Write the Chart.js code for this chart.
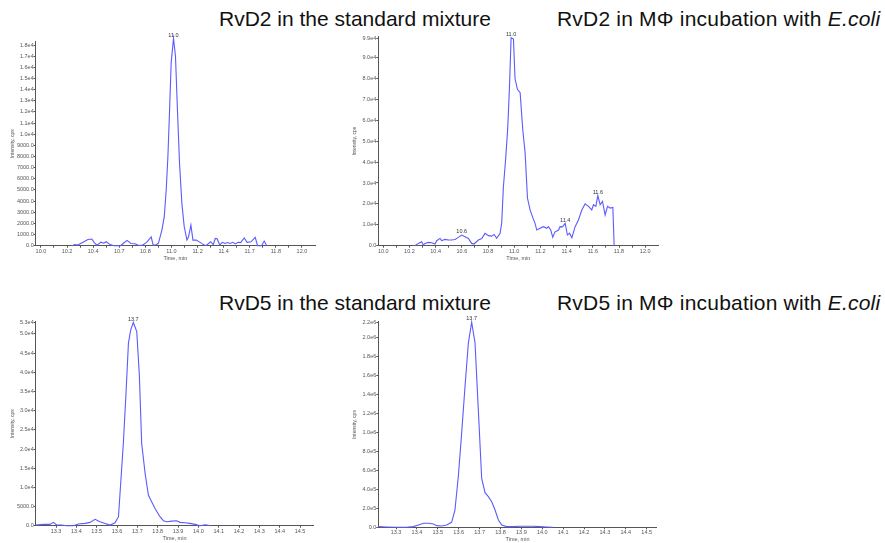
<!DOCTYPE html>
<html>
<head>
<meta charset="utf-8">
<script src="https://cdn.jsdelivr.net/npm/chart.js@4.4.1/dist/chart.umd.min.js"></script>
<style>
  html, body { margin: 0; padding: 0; background: #fff; }
  body { width: 885px; height: 543px; position: relative; overflow: hidden; }
  canvas { position: absolute; }
  .ttl { position: absolute; font-family: "Liberation Sans", Arial, sans-serif; font-size: 21px; line-height: 21px; color: #111; white-space: nowrap; }
  .ttl.r { letter-spacing: 0.2px; }
</style>
</head>
<body>
<div class="ttl" style="left:219px; top:8px;">RvD2 in the standard mixture</div>
<div class="ttl r" style="left:557px; top:8px;">RvD2 in MΦ incubation with <i>E.coli</i></div>
<div class="ttl" style="left:219px; top:292px;">RvD5 in the standard mixture</div>
<div class="ttl r" style="left:557px; top:292px;">RvD5 in MΦ incubation with <i>E.coli</i></div>

<canvas id="c1" width="330" height="240" style="left:0px; top:30px;"></canvas>
<canvas id="c2" width="340" height="240" style="left:330px; top:30px;"></canvas>
<canvas id="c3" width="330" height="233" style="left:0px; top:310px;"></canvas>
<canvas id="c4" width="340" height="233" style="left:330px; top:310px;"></canvas>

<script>
// ---------------- DATA ----------------
// Panel 1: RvD2 standard mixture (time, min / intensity, cps)
const P1_TIME = [10.24,10.26,10.28,10.30,10.33,10.36,10.39,10.41,10.43,10.46,10.48,10.50,10.53,10.56,10.61,10.63,10.66,10.69,10.72,10.75,10.78,10.81,10.845,10.86,10.88,10.90,10.927,10.945,10.96,10.973,10.985,10.998,11.016,11.031,11.047,11.062,11.08,11.098,11.119,11.131,11.149,11.165,11.19,11.22,11.245,11.264,11.28,11.30,11.32,11.336,11.35,11.37,11.39,11.41,11.43,11.45,11.47,11.49,11.51,11.53,11.558,11.58,11.61,11.642,11.66,11.69,11.711,11.73];
const P1_INT  = [0,100,50,180,350,550,600,250,40,320,220,360,100,0,0,200,480,200,180,20,60,300,780,50,60,215,1400,2600,5000,8000,11900,16400,18600,17000,11900,7400,3800,1700,510,800,1850,500,500,300,100,0,150,360,100,650,620,60,300,200,280,200,300,160,300,280,700,300,350,750,0,0,420,0];
const P1_XTICKS = [10.0,10.1,10.2,10.3,10.4,10.5,10.6,10.7,10.8,10.9,11.0,11.1,11.2,11.3,11.4,11.5,11.6,11.7,11.8,11.9,12.0];
const P1_XLABELS = ['10.0','','10.2','','10.4','','10.7','','10.8','','11.0','','11.2','','11.4','','11.7','','11.8','','12.0'];
const P1_YTICKS = [0,1000,2000,3000,4000,5000,6000,7000,8000,9000,10000,11000,12000,13000,14000,15000,16000,17000,18000];
const P1_PEAKS = [[11.016, 18600, '11.0']];

// Panel 2: RvD2 in MΦ incubation with E.coli
const P2_TIME = [10.242,10.268,10.293,10.306,10.318,10.344,10.369,10.395,10.408,10.433,10.446,10.471,10.497,10.522,10.548,10.573,10.599,10.624,10.65,10.675,10.693,10.726,10.752,10.777,10.803,10.828,10.846,10.866,10.892,10.904,10.917,10.935,10.95,10.963,10.976,10.994,11.006,11.024,11.045,11.065,11.083,11.101,11.121,11.146,11.159,11.172,11.197,11.223,11.248,11.261,11.279,11.294,11.31,11.338,11.35,11.368,11.389,11.406,11.422,11.44,11.465,11.49,11.516,11.541,11.567,11.592,11.605,11.623,11.638,11.656,11.674,11.694,11.712,11.732,11.753,11.763];
const P2_INT  = [0,1100,1900,300,1100,1600,1400,800,2400,3500,2400,3000,2700,2700,3000,4000,5100,4300,3500,1100,800,2700,3400,5900,4800,4600,5400,3500,5900,10700,28000,42000,56000,75000,99500,98900,80000,74800,73200,55600,44400,22800,17100,12700,10700,7500,8300,9100,8300,9100,7500,4000,6500,7500,9100,9000,10700,5100,6000,3800,9100,12300,17100,20000,18800,17100,19600,18800,24000,19600,21200,14700,18800,18000,18300,0];
const P2_XTICKS = [10.0,10.1,10.2,10.3,10.4,10.5,10.6,10.7,10.8,10.9,11.0,11.1,11.2,11.3,11.4,11.5,11.6,11.7,11.8,11.9,12.0];
const P2_XLABELS = ['10.0','','10.2','','10.4','','10.6','','10.8','','11.0','','11.2','','11.4','','11.6','','11.8','','12.0'];
const P2_YTICKS = [0,10000,20000,30000,40000,50000,60000,70000,80000,90000,99000];
const P2_PEAKS = [[10.599, 5100, '10.6'], [10.976, 99500, '11.0'], [11.389, 10700, '11.4'], [11.638, 24000, '11.6']];

// Panel 3: RvD5 standard mixture
const P3_TIME = [13.2,13.238,13.27,13.287,13.303,13.328,13.352,13.385,13.41,13.443,13.467,13.492,13.516,13.541,13.566,13.59,13.607,13.631,13.644,13.656,13.667,13.68,13.697,13.71,13.721,13.738,13.754,13.77,13.787,13.811,13.828,13.844,13.869,13.893,13.91,13.934,13.959,13.984,14.008,14.033,14.049,14.057];
const P3_INT  = [170,350,350,870,170,170,0,0,430,600,870,1650,1050,600,170,780,2350,21500,34500,47600,51000,53000,50600,38900,21500,13650,8000,6260,4500,2350,1300,1050,1200,1300,870,780,600,350,0,260,100,0];
const P3_XTICKS = [13.3,13.4,13.5,13.6,13.7,13.8,13.9,14.0,14.1,14.2,14.3,14.4,14.5];
const P3_XLABELS = ['13.3','13.4','13.5','13.6','13.7','13.8','13.9','14.0','14.1','14.2','14.3','14.4','14.5'];
const P3_YTICKS = [0,5000,10000,15000,20000,25000,30000,35000,40000,45000,50000,53000];
const P3_PEAKS = [[13.68, 53000, '13.7']];

// Panel 4: RvD5 in MΦ incubation with E.coli
const P4_TIME = [13.215,13.255,13.303,13.351,13.383,13.407,13.431,13.455,13.479,13.495,13.518,13.542,13.566,13.582,13.598,13.614,13.63,13.646,13.662,13.678,13.694,13.71,13.726,13.742,13.758,13.774,13.79,13.806,13.83,13.861,13.893,13.925,13.957,13.989,14.021,14.05];
const P4_INT  = [7000,3500,0,0,7000,24500,42000,42000,35000,17500,14000,24500,52600,182000,533000,990000,1480000,1940000,2165000,1950000,1235000,516000,365000,323000,270000,182000,77000,24500,7000,7000,10500,10500,10500,7000,3500,0];
const P4_XTICKS = [13.3,13.4,13.5,13.6,13.7,13.8,13.9,14.0,14.1,14.2,14.3,14.4,14.5];
const P4_XLABELS = ['13.3','13.4','13.5','13.6','13.7','13.8','13.9','14.0','14.1','14.2','14.3','14.4','14.5'];
const P4_YTICKS = [0,200000,400000,600000,800000,1000000,1200000,1400000,1600000,1800000,2000000,2160000];
const P4_PEAKS = [[13.662, 2165000, '13.7']];

// ---------------- RENDERING ----------------
const LINE_COLOR = '#5b5bff';
const AXIS_COLOR = '#555';
const TEXT_COLOR = '#555';
const FONT = 'Liberation Sans, Arial, sans-serif';

function fmtY(v) {
  if (v === 0) return '0.0';
  if (v < 10000) return v.toFixed(1);
  return v.toExponential(1).replace('e+', 'e');
}

const peakPlugin = {
  id: 'peaks',
  afterDatasetsDraw(chart, args, opts) {
    const { ctx, scales: { x, y } } = chart;
    ctx.save();
    ctx.font = '5.5px ' + FONT;
    ctx.fillStyle = '#333';
    ctx.textAlign = 'center';
    ctx.textBaseline = 'bottom';
    (opts.items || []).forEach(p => {
      ctx.fillText(p[2], x.getPixelForValue(p[0]), y.getPixelForValue(p[1]) - 0.5);
    });
    ctx.restore();
  }
};

function makeChart(id, c) {
  const data = c.time.map((t, i) => ({ x: t, y: c.int[i] }));
  return new Chart(document.getElementById(id), {
    type: 'line',
    data: { datasets: [{ data, borderColor: LINE_COLOR, borderWidth: 1.1, pointRadius: 0, tension: 0, fill: false, clip: false }] },
    options: {
      animation: false, responsive: false, devicePixelRatio: 1,
      layout: { padding: { top: c.padTop, right: c.padRight, left: 0, bottom: 0 } },
      plugins: { legend: { display: false }, tooltip: { enabled: false }, peaks: { items: c.peaks } },
      scales: {
        x: {
          type: 'linear', min: c.xMin, max: c.xMax,
          afterBuildTicks: s => { s.ticks = c.xTicks.map(v => ({ value: v })); },
          afterFit: s => { s.height = c.xH; },
          ticks: { autoSkip: false, maxRotation: 0, minRotation: 0, padding: 0, color: TEXT_COLOR,
                   font: { family: FONT, size: 5.5 },
                   callback: (v, i) => c.xLabels[i] },
          grid: { drawOnChartArea: false, drawTicks: true, tickLength: 2, color: AXIS_COLOR },
          border: { display: true, color: AXIS_COLOR, width: 1 },
          title: { display: true, text: 'Time, min', color: TEXT_COLOR, font: { family: FONT, size: 5.5 }, padding: { top: 0, bottom: c.xTitlePad } }
        },
        y: {
          type: 'linear', min: 0, max: c.yMax,
          afterBuildTicks: s => { s.ticks = c.yTicks.map(v => ({ value: v })); },
          afterFit: s => { s.width = c.yW; },
          ticks: { autoSkip: false, padding: 0, color: TEXT_COLOR,
                   font: { family: FONT, size: 5.5 },
                   callback: v => fmtY(v) },
          grid: { drawOnChartArea: false, drawTicks: true, tickLength: 2, color: AXIS_COLOR },
          border: { display: true, color: AXIS_COLOR, width: 1 },
          title: { display: true, text: 'Intensity, cps', color: TEXT_COLOR, font: { family: FONT, size: 5 }, padding: { top: c.yTitlePad, bottom: 0 } }
        }
      }
    },
    plugins: [peakPlugin]
  });
}

makeChart('c1', { time: P1_TIME, int: P1_INT, xTicks: P1_XTICKS, xLabels: P1_XLABELS, yTicks: P1_YTICKS, peaks: P1_PEAKS,
  xMin: 9.96, xMax: 12.10, yMax: 18300, padTop: 11.7, padRight: 15, yW: 35.7, xH: 24.3, xTitlePad: 8.7, yTitlePad: 10 });
makeChart('c2', { time: P2_TIME, int: P2_INT, xTicks: P2_XTICKS, xLabels: P2_XLABELS, yTicks: P2_YTICKS, peaks: P2_PEAKS,
  xMin: 9.962, xMax: 12.10, yMax: 100000, padTop: 6.7, padRight: 11.7, yW: 48.3, xH: 24.3, xTitlePad: 8.7, yTitlePad: 22 });
makeChart('c3', { time: P3_TIME, int: P3_INT, xTicks: P3_XTICKS, xLabels: P3_XLABELS, yTicks: P3_YTICKS, peaks: P3_PEAKS,
  xMin: 13.2, xMax: 14.565, yMax: 53200, padTop: 11.7, padRight: 16.7, yW: 35.7, xH: 17.3, xTitlePad: 1.7, yTitlePad: 10 });
makeChart('c4', { time: P4_TIME, int: P4_INT, xTicks: P4_XTICKS, xLabels: P4_XLABELS, yTicks: P4_YTICKS, peaks: P4_PEAKS,
  xMin: 13.215, xMax: 14.548, yMax: 2170000, padTop: 11.7, padRight: 13.3, yW: 48.3, xH: 15.7, xTitlePad: 0.7, yTitlePad: 22 });
</script>
</body>
</html>
